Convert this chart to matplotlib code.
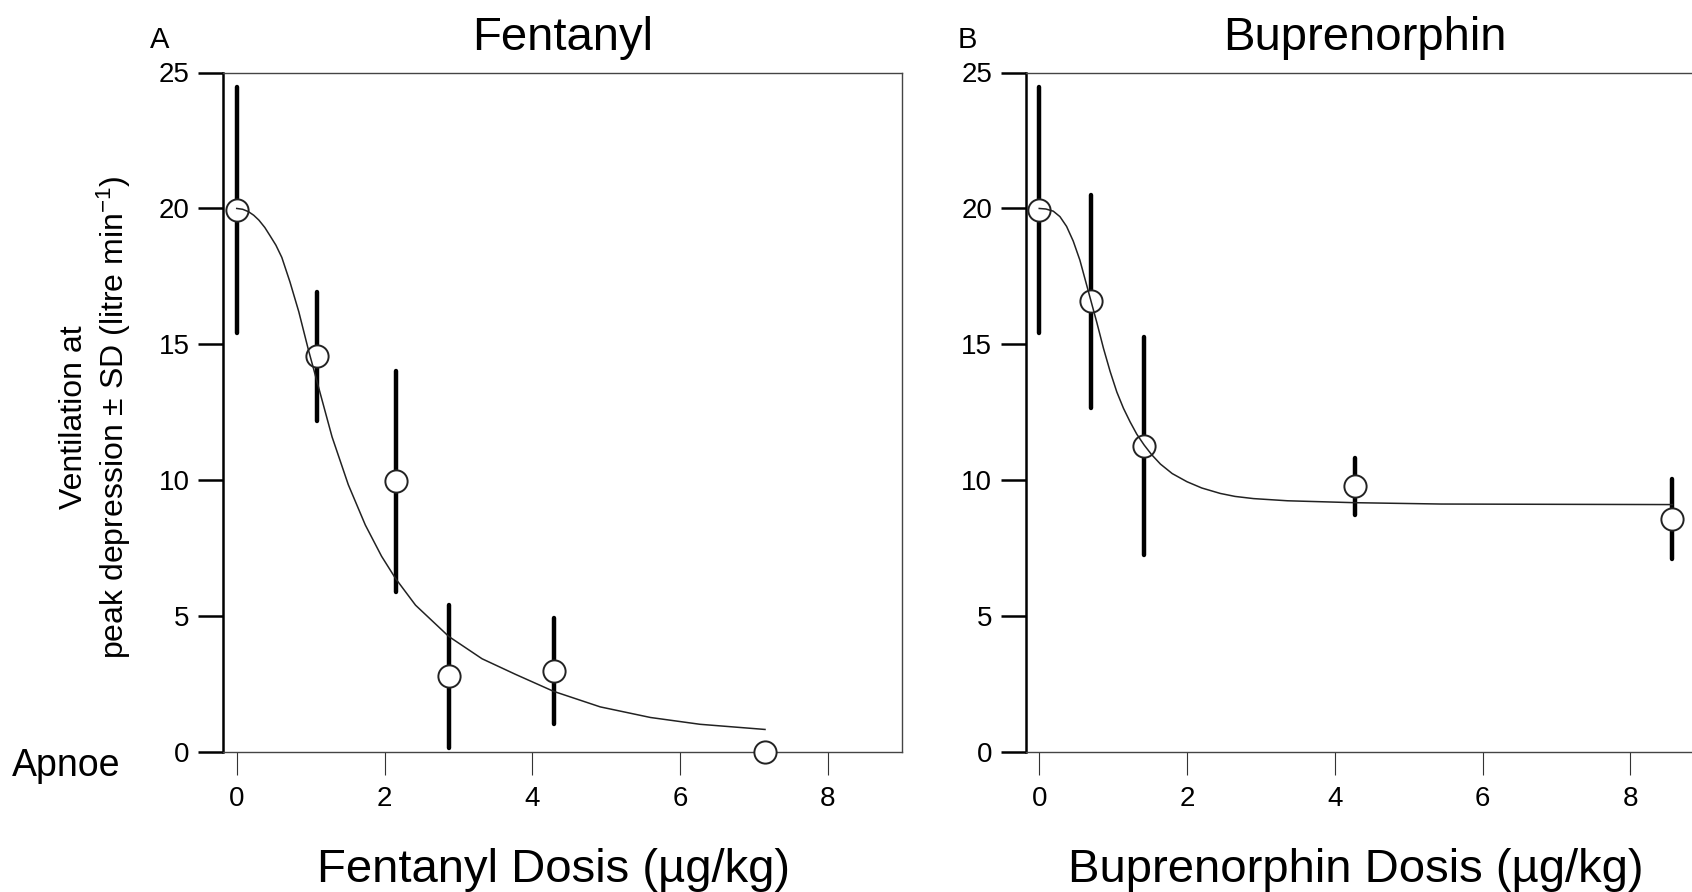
import numpy as np
import matplotlib.pyplot as plt

plt.rcParams['font.family'] = ['Liberation Sans', 'DejaVu Sans']
plt.rcParams['mathtext.fontset'] = 'custom'
plt.rcParams['mathtext.rm'] = 'Liberation Sans'
plt.rcParams['mathtext.it'] = 'Liberation Sans:italic'
plt.rcParams['mathtext.default'] = 'regular'

# Panel A: fentanyl, mean ventilation +- SD per dose
fent_dose = [0.0, 1.08, 2.15, 2.87, 4.29, 7.15]
fent_vent = [19.95, 14.56, 9.96, 2.79, 2.98, 0.0]
fent_sd = [4.53, 2.36, 4.06, 2.62, 1.95, 0.0]

# fitted curve
fent_fit_dose = [0.0, 0.08, 0.16, 0.23, 0.30, 0.38, 0.45, 0.53, 0.61, 0.72, 0.84, 0.97,
                 1.08, 1.29, 1.51, 1.74, 1.96, 2.15, 2.42, 2.87, 3.32, 3.77, 4.29, 4.92,
                 5.60, 6.27, 7.15]
fent_fit_vent = [20.0, 19.97, 19.88, 19.75, 19.57, 19.3, 19.0, 18.65, 18.2, 17.3, 16.2, 14.8,
                 13.7, 11.6, 9.84, 8.36, 7.21, 6.39, 5.41, 4.26, 3.44, 2.87, 2.24, 1.67,
                 1.28, 1.03, 0.84]

# Panel B: buprenorphin
bup_dose = [0.0, 0.70, 1.42, 4.28, 8.57]
bup_vent = [19.95, 16.58, 11.27, 9.78, 8.58]
bup_sd = [4.53, 3.92, 4.01, 1.06, 1.48]

bup_fit_dose = [0.0, 0.09, 0.19, 0.28, 0.37, 0.46, 0.55, 0.62, 0.70, 0.78, 0.87, 0.96,
                1.05, 1.14, 1.23, 1.32, 1.42, 1.52, 1.64, 1.80, 2.0, 2.2, 2.45, 2.65,
                2.9, 3.36, 4.26, 5.44, 6.93, 8.57]
bup_fit_vent = [20.0, 19.98, 19.9, 19.7, 19.34, 18.8, 18.1, 17.4, 16.6, 15.8, 14.85, 14.0,
                13.25, 12.65, 12.15, 11.7, 11.3, 10.95, 10.6, 10.25, 9.95, 9.72, 9.52, 9.41,
                9.33, 9.25, 9.18, 9.13, 9.12, 9.11]

x_ticks = [0, 2, 4, 6, 8]
y_ticks = [0, 5, 10, 15, 20, 25]

W, H = 1692, 892


def draw_panel(ax, dose, vent, sd, fit_x, fit_y, title, xlabel):
    dose = np.asarray(dose)
    vent = np.asarray(vent)
    sd = np.asarray(sd)
    has_sd = sd > 0

    eb = ax.errorbar(dose[has_sd], vent[has_sd], yerr=sd[has_sd], fmt='none',
                     ecolor='black', elinewidth=3.2, capsize=0, zorder=2)
    for coll in eb[2]:
        coll.set_capstyle('round')
    ax.plot(dose, vent, 'o', ms=16, mfc='white', mec='#222222', mew=1.4,
            zorder=3, clip_on=False)
    ax.plot(fit_x, fit_y, '-', color='#222222', lw=1.1, zorder=4,
            solid_joinstyle='round')

    ax.set_xlim(-0.186, 9.0)
    ax.set_ylim(0, 25)
    ax.set_xticks(x_ticks)
    ax.set_yticks(y_ticks)

    ax.tick_params(axis='y', direction='out', length=18, width=1.8, labelsize=20, pad=6)
    ax.tick_params(axis='x', direction='out', length=16.5, width=0.8, color='#333333',
                   labelsize=20, pad=8)
    for side in ['top', 'right', 'bottom']:
        ax.spines[side].set_linewidth(1.0)
        ax.spines[side].set_color('#444444')
    ax.spines['left'].set_linewidth(1.8)
    ax.spines['left'].set_color('black')

    ax.set_title(title, fontsize=34, pad=16)
    ax.set_xlabel(xlabel, fontsize=34)
    ax.xaxis.label.set_verticalalignment('baseline')
    ax.xaxis.set_label_coords(0.487, -0.191)


fig = plt.figure(figsize=(W / 100, H / 100), dpi=100)
ax1 = fig.add_axes([223 / W, 1 - 752.3 / H, 678.7 / W, 679.8 / H])
ax2 = fig.add_axes([1025.5 / W, 1 - 752.3 / H, 678.7 / W, 679.8 / H])

draw_panel(ax1, fent_dose, fent_vent, fent_sd, fent_fit_dose, fent_fit_vent,
           'Fentanyl', 'Fentanyl Dosis (µg/kg)')
draw_panel(ax2, bup_dose, bup_vent, bup_sd, bup_fit_dose, bup_fit_vent,
           'Buprenorphin', 'Buprenorphin Dosis (µg/kg)')

ax1.set_ylabel('Ventilation at\npeak depression ± SD (litre min$^{-1}$)',
               fontsize=23, linespacing=1.2)
ax1.yaxis.set_label_coords(-0.133, 0.493)

letter_font = ['Liberation Sans Narrow', 'Liberation Sans']
fig.text(150 / W, 1 - 48 / H, 'A', fontsize=21, va='baseline', family=letter_font)
fig.text(958 / W, 1 - 48 / H, 'B', fontsize=21, va='baseline', family=letter_font)
fig.text(12 / W, 1 - 776 / H, 'Apnoe', fontsize=27, va='baseline')

fig.savefig('out.png', dpi=100)
